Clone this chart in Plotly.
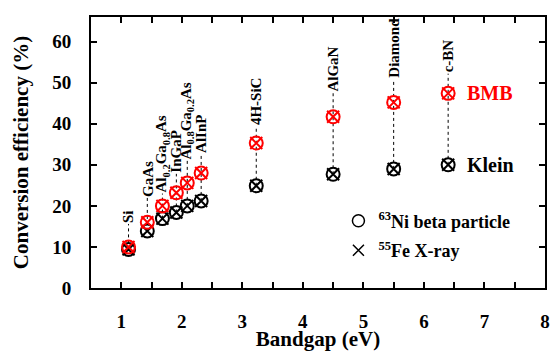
import plotly.graph_objects as go

materials = ["Si", "GaAs", "Al<sub>0.2</sub>Ga<sub>0.8</sub>As", "InGaP",
             "Al<sub>0.8</sub>Ga<sub>0.2</sub>As", "AlInP", "4H-SiC", "AlGaN",
             "Diamond", "c-BN"]
bandgap = [1.12, 1.43, 1.68, 1.91, 2.09, 2.32, 3.23, 4.5, 5.5, 6.4]
bmb = [10.0, 16.0, 20.0, 23.2, 25.6, 28.0, 35.3, 41.7, 45.2, 47.4]
klein = [9.4, 13.9, 16.9, 18.4, 20.0, 21.2, 24.9, 27.7, 29.0, 30.0]
label_base = [15.6, 22.0, 23.0, 27.8, 31.0, 32.7, 39.5, 47.5, 50.9, 52.2]
x_ticks = [1, 2, 3, 4, 5, 6, 7, 8]
y_ticks = [0, 10, 20, 30, 40, 50, 60]

FONT = "Liberation Serif, Times New Roman, serif"
fig = go.Figure()

# dotted leader lines from Klein point up to the label
lx, ly = [], []
for x, k, lb in zip(bandgap, klein, label_base):
    lx += [x, x, None]
    ly += [k, lb, None]
fig.add_trace(go.Scatter(x=lx, y=ly, mode="lines", showlegend=False,
                         line=dict(color="black", width=1, dash="dot"),
                         hoverinfo="skip"))

for vals, col in [(klein, "black"), (bmb, "red")]:
    fig.add_trace(go.Scatter(x=bandgap, y=vals, mode="markers", showlegend=False,
                             marker=dict(symbol="circle-open", size=13,
                                         color=col, line=dict(width=2, color=col))))
    fig.add_trace(go.Scatter(x=bandgap, y=vals, mode="markers", showlegend=False,
                             marker=dict(symbol="x-thin-open", size=12,
                                         color=col, line=dict(width=2, color=col))))

# legend entries
fig.add_trace(go.Scatter(x=[None], y=[None], mode="markers", legendgroup="a",
                         name="<sup>63</sup>Ni beta particle",
                         marker=dict(symbol="circle-open", size=12, color="black",
                                     line=dict(width=1.5, color="black"))))
fig.add_trace(go.Scatter(x=[None], y=[None], mode="markers", legendgroup="b",
                         name="<sup>55</sup>Fe X-ray",
                         marker=dict(symbol="x-thin-open", size=11, color="black",
                                     line=dict(width=1.5, color="black"))))

annotations = []
for m, x, lb in zip(materials, bandgap, label_base):
    annotations.append(dict(x=x, y=lb, xref="x", yref="y", text=m, showarrow=False,
                            textangle=-90, xanchor="center", yanchor="bottom",
                            borderpad=0,
                            font=dict(family=FONT, size=15, color="black",
                                      weight="bold")))
annotations.append(dict(x=6.68, y=bmb[-1], xref="x", yref="y", text="<b>BMB</b>",
                        showarrow=False, xanchor="left", yanchor="middle",
                        font=dict(family=FONT, size=20, color="red")))
annotations.append(dict(x=6.68, y=klein[-1], xref="x", yref="y", text="<b>Klein</b>",
                        showarrow=False, xanchor="left", yanchor="middle",
                        font=dict(family=FONT, size=20, color="black")))

axis_common = dict(showline=True, linewidth=2, linecolor="black", mirror="ticks",
                   ticks="inside", ticklen=6, tickwidth=1.5, tickcolor="black",
                   showgrid=False, zeroline=False, automargin=False,
                   ticklabeloverflow="allow")

fig.update_layout(
    width=550, height=351,
    margin=dict(l=91, r=5, t=17, b=63),
    paper_bgcolor="white", plot_bgcolor="white",
    font=dict(family=FONT, color="black"),
    annotations=annotations,
    legend=dict(x=0.545, y=0.315, xanchor="left", yanchor="top",
                bgcolor="rgba(0,0,0,0)", tracegroupgap=3,
                font=dict(family=FONT, size=18, color="black", weight="bold")),
    xaxis=dict(range=[0.5, 8], tickmode="array", tickvals=x_ticks,
               ticktext=[f"<b>{v}</b>" for v in x_ticks],
               minor=dict(dtick=0.5, tick0=0, ticks="inside", ticklen=6,
                          tickwidth=1.5, tickcolor="black"),
               tickfont=dict(family=FONT, size=19, color="black"),
               ticklabelstandoff=15,
               title=dict(text="<b>Bandgap (eV)</b>", standoff=2,
                          font=dict(family=FONT, size=21)),
               **axis_common),
    yaxis=dict(range=[0, 66], tickmode="array", tickvals=y_ticks,
               ticktext=[f"<b>{v}</b>" for v in y_ticks],
               tickfont=dict(family=FONT, size=19, color="black"),
               ticklabelstandoff=14,
               title=dict(text="<b>Conversion efficiency (%)</b>", standoff=18,
                          font=dict(family=FONT, size=21)),
               **axis_common),
)

# remove the default 8px page margin so the figure fills the window
fig.write_html("out.html",
               config={"displayModeBar": False},
               post_script="document.body.style.margin='0';"
                           "document.body.style.overflow='hidden';")
